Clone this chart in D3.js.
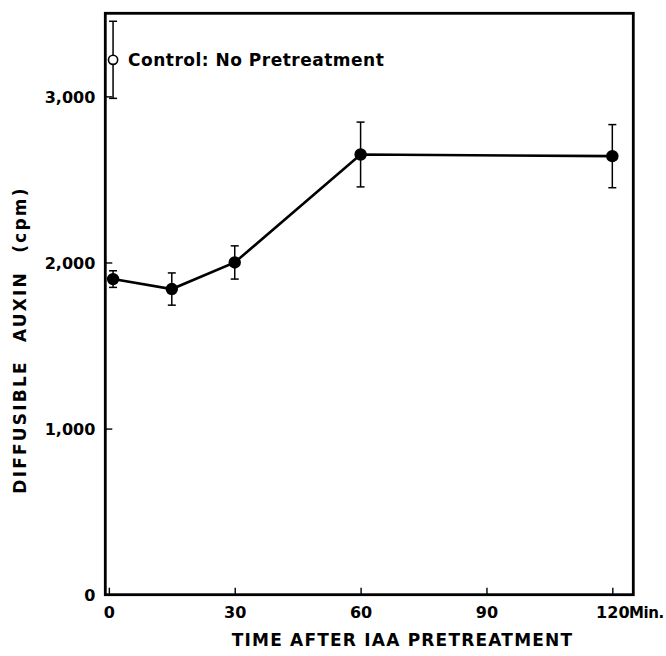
<!DOCTYPE html>
<html>
<head>
<meta charset="utf-8">
<script src="https://cdn.jsdelivr.net/npm/d3@7"></script>
<style>
  html, body { margin: 0; padding: 0; background: #fff; }
  svg { display: block; }
  text { font-family: "DejaVu Sans", sans-serif; font-weight: bold; fill: #000; }
</style>
</head>
<body>
<svg id="chart" width="666" height="656"></svg>
<script>
// Diffusible auxin after IAA pretreatment (means with error bars)
const times = [1, 15, 30, 60, 120];
const auxin = [1900, 1840, 2000, 2650, 2640];
const auxinErr = [50, 97, 100, 195, 190];

// Control without pretreatment
const controlTime = [1];
const controlValue = [3220];
const controlErr = [232];
const controlLabel = "Control: No Pretreatment";

const xTicks = [0, 30, 60, 90, 120];
const yTicks = [0, 1000, 2000, 3000];
const xTitle = "TIME AFTER IAA PRETREATMENT";
const yTitle = "DIFFUSIBLE AUXIN (cpm)";
const xUnit = "Min.";

const svg = d3.select("#chart");
const ink = "#000";

const plot = { left: 105.3, right: 633.3, top: 13.3, bottom: 594.7 };

const x = d3.scaleLinear().domain([-0.85, 125]).range([plot.left, plot.right]);
const y = d3.scaleLinear().domain([0, 3500]).range([plot.bottom, plot.top]);

// Axes with inward ticks
const xAxis = svg.append("g")
  .attr("transform", `translate(0,${plot.bottom})`)
  .call(d3.axisBottom(x).tickValues(xTicks).tickSizeInner(-7).tickSizeOuter(0).tickPadding(12).tickFormat(d3.format("d")));
const yAxis = svg.append("g")
  .attr("transform", `translate(${plot.left},0)`)
  .call(d3.axisLeft(y).tickValues(yTicks).tickSizeInner(-7).tickSizeOuter(0).tickPadding(10).tickFormat(d3.format(",")));

[xAxis, yAxis].forEach(g => {
  g.select(".domain").remove();
  g.selectAll(".tick line").attr("stroke", ink).attr("stroke-width", 1.4);
  g.selectAll(".tick text")
    .attr("font-family", "DejaVu Sans, sans-serif")
    .attr("font-weight", "bold")
    .attr("font-size", 16)
    .attr("fill", ink);
});
yAxis.selectAll(".tick text").attr("dy", "0.36em");

// "Min." following the last x tick label, on the same baseline
const lastLabel = xAxis.selectAll(".tick text").filter(d => d === 120);
const lastWidth = lastLabel.node().getComputedTextLength();
xAxis.append("text")
  .attr("x", x(120) + lastWidth / 2)
  .attr("y", 12)
  .attr("dy", "0.75em")
  .attr("font-size", 15)
  .attr("letter-spacing", -0.4)
  .attr("text-anchor", "start")
  .text(xUnit);

// Frame
svg.append("rect")
  .attr("x", plot.left).attr("y", plot.top)
  .attr("width", plot.right - plot.left).attr("height", plot.bottom - plot.top)
  .attr("fill", "none").attr("stroke", ink).attr("stroke-width", 2.8);

// Error bars
function errorBars(ts, vs, es) {
  const g = svg.append("g").attr("stroke", ink).attr("stroke-width", 1.5).attr("fill", "none");
  ts.forEach((t, i) => {
    const cx = x(t), top = y(vs[i] + es[i]), bot = y(vs[i] - es[i]);
    g.append("line").attr("x1", cx).attr("x2", cx).attr("y1", top).attr("y2", bot);
    g.append("line").attr("x1", cx - 4).attr("x2", cx + 4).attr("y1", top).attr("y2", top);
    g.append("line").attr("x1", cx - 4).attr("x2", cx + 4).attr("y1", bot).attr("y2", bot);
  });
}
errorBars(times, auxin, auxinErr);
errorBars(controlTime, controlValue, controlErr);

// Connecting line
const pts = times.map((t, i) => [t, auxin[i]]);
svg.append("path")
  .datum(pts)
  .attr("fill", "none").attr("stroke", ink).attr("stroke-width", 2.6)
  .attr("d", d3.line().x(d => x(d[0])).y(d => y(d[1])));

// Filled markers
svg.append("g").selectAll("circle")
  .data(pts).join("circle")
  .attr("cx", d => x(d[0])).attr("cy", d => y(d[1])).attr("r", 6.2)
  .attr("fill", ink);

// Open control marker
svg.append("circle")
  .attr("cx", x(controlTime[0])).attr("cy", y(controlValue[0])).attr("r", 4.6)
  .attr("fill", "#fff").attr("stroke", ink).attr("stroke-width", 1.6);

svg.append("text")
  .attr("x", 128).attr("y", y(controlValue[0]))
  .attr("dy", "0.36em")
  .attr("font-size", 17)
  .attr("letter-spacing", 0.5)
  .text(controlLabel);

// Axis titles
svg.append("text")
  .attr("x", (233 + 572) / 2).attr("y", 646)
  .attr("text-anchor", "middle")
  .attr("font-size", 17)
  .attr("letter-spacing", 1.2)
  .text(xTitle);

svg.append("text")
  .attr("transform", `translate(26,340) rotate(-90)`)
  .attr("text-anchor", "middle")
  .attr("font-size", 17)
  .attr("letter-spacing", 2.2)
  .attr("word-spacing", 10)
  .text(yTitle);
</script>
</body>
</html>
